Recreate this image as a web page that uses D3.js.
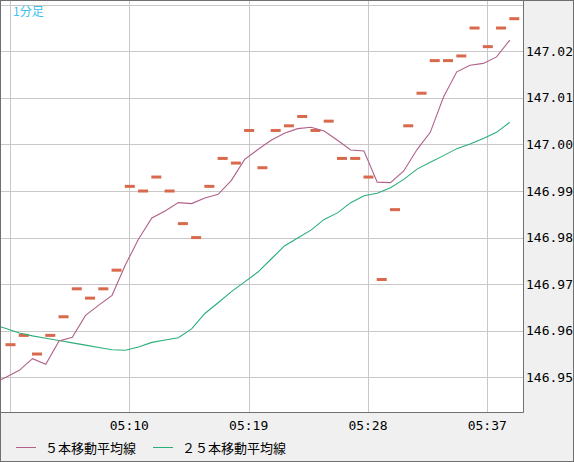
<!DOCTYPE html>
<html>
<head>
<meta charset="utf-8">
<script src="https://cdn.jsdelivr.net/npm/d3@7/dist/d3.min.js"></script>
<style>
html,body{margin:0;padding:0;background:#f0f0f0;}
svg{display:block;}
</style>
</head>
<body>
<svg id="chart" width="574" height="462"></svg>
<script>
// minutes past 05:00
const barMinutes = d3.range(1, 40);
const closes = [
  146.957, 146.959, 146.955, 146.959, 146.963, 146.969, 146.967, 146.969, 146.973, 146.991,
  146.990, 146.993, 146.990, 146.983, 146.980, 146.991, 146.997, 146.996, 147.003, 146.995,
  147.003, 147.004, 147.006, 147.003, 147.005, 146.997, 146.997, 146.993, 146.971, 146.986,
  147.004, 147.011, 147.018, 147.018, 147.019, 147.025, 147.021, 147.025, 147.027
];
const lineMinutes = d3.range(0, 40);
const ma5 = [
  146.9487, 146.9500, 146.9515, 146.9540, 146.9528, 146.9578, 146.9586, 146.9633, 146.9655, 146.9676,
  146.9741, 146.9797, 146.9842, 146.9857, 146.9875, 146.9873, 146.9885, 146.9893, 146.9923, 146.9968,
  146.9989, 147.0009, 147.0024, 147.0034, 147.0037, 147.0029, 147.0009, 146.9988, 146.9986, 146.9919,
  146.9918, 146.9943, 146.9989, 147.0026, 147.0102, 147.0156, 147.0170, 147.0174, 147.0188, 147.0224
];
const ma25 = [
  146.9613, 146.9605, 146.9595, 146.9589, 146.9584, 146.9579, 146.9574, 146.9569, 146.9564, 146.9559,
  146.9558, 146.9565, 146.9575, 146.9580, 146.9585, 146.9604, 146.9637, 146.9660, 146.9684, 146.9705,
  146.9726, 146.9754, 146.9782, 146.9799, 146.9816, 146.9839, 146.9853, 146.9875, 146.9890, 146.9895,
  146.9907, 146.9925, 146.9947, 146.9962, 146.9976, 146.9991, 147.0001, 147.0013, 147.0026, 147.0048
];
const xTickMinutes = [1, 10, 19, 28, 37];
const xTickLabels = ["", "05:10", "05:19", "05:28", "05:37"];
const yTicks = [146.95, 146.96, 146.97, 146.98, 146.99, 147.00, 147.01, 147.02, 147.03];
const yTickLabels = ["146.95", "146.96", "146.97", "146.98", "146.99", "147.00", "147.01", "147.02", ""];
const legendNames = ["５本移動平均線", "２５本移動平均線"];
const title = "1分足";

const W = 574, H = 462;
const plot = {left: 1, top: 1, right: 523.5, bottom: 412.5};
const colors = {ma5: "#b0608a", ma25: "#2aae78", bar: "#d8694c", grid: "#c8c8c8", frame: "#707070", title: "#40c0ee"};

const svg = d3.select("#chart");
const x = d3.scaleLinear().domain([1, 37]).range([10, 487.3]);
const y = d3.scaleLinear().domain([146.95, 147.02]).range([377.3, 51.3]);

// background
svg.append("rect").attr("x", 0).attr("y", 0).attr("width", W).attr("height", H).attr("fill", "#f0f0f0");
svg.append("rect").attr("x", plot.left).attr("y", plot.top)
  .attr("width", plot.right - plot.left).attr("height", plot.bottom - plot.top).attr("fill", "#fff");

svg.append("clipPath").attr("id", "clip").append("rect")
  .attr("x", plot.left).attr("y", plot.top)
  .attr("width", plot.right - plot.left - 0.5).attr("height", plot.bottom - plot.top - 0.5);

const g = svg.append("g").attr("clip-path", "url(#clip)");

// grid
g.selectAll(".hg").data(yTicks).enter().append("line")
  .attr("x1", plot.left).attr("x2", plot.right)
  .attr("y1", d => Math.round(y(d)) + 0.5).attr("y2", d => Math.round(y(d)) + 0.5)
  .attr("stroke", colors.grid).attr("stroke-width", 1);
g.selectAll(".vg").data(xTickMinutes).enter().append("line")
  .attr("y1", plot.top).attr("y2", plot.bottom)
  .attr("x1", d => Math.round(x(d)) + 0.5).attr("x2", d => Math.round(x(d)) + 0.5)
  .attr("stroke", colors.grid).attr("stroke-width", 1);

// markers
g.selectAll(".bar").data(barMinutes).enter().append("rect")
  .attr("x", (d) => x(d) + 0.5 - 5)
  .attr("y", (d, i) => y(closes[i]) - 1.5)
  .attr("width", 10).attr("height", 3)
  .attr("fill", colors.bar);

// lines
const lineGen = arr => d3.line()
  .x((d) => x(d) - 4)
  .y((d, i) => y(arr[i]));
g.append("path").datum(lineMinutes).attr("d", lineGen(ma25))
  .attr("fill", "none").attr("stroke", colors.ma25).attr("stroke-width", 1.1);
g.append("path").datum(lineMinutes).attr("d", lineGen(ma5))
  .attr("fill", "none").attr("stroke", colors.ma5).attr("stroke-width", 1.1);

// frame
svg.append("line").attr("x1", plot.right).attr("x2", plot.right).attr("y1", 0).attr("y2", plot.bottom)
  .attr("stroke", colors.frame);
svg.append("line").attr("x1", 0).attr("x2", plot.right).attr("y1", plot.bottom).attr("y2", plot.bottom)
  .attr("stroke", colors.frame);
svg.append("rect").attr("x", 0.5).attr("y", 0.5).attr("width", W - 1).attr("height", H - 1)
  .attr("fill", "none").attr("stroke", colors.frame);

// y labels
svg.selectAll(".yl").data(yTicks).enter().append("text")
  .attr("x", 526).attr("y", d => y(d) + 4.5)
  .attr("font-family", "DejaVu Sans Mono, monospace").attr("font-size", 13)
  .attr("fill", "#000")
  .text((d, i) => yTickLabels[i]);

// x labels
svg.selectAll(".xl").data(xTickMinutes).enter().append("text")
  .attr("x", d => x(d)).attr("y", 430)
  .attr("text-anchor", "middle")
  .attr("font-family", "DejaVu Sans Mono, monospace").attr("font-size", 13)
  .attr("fill", "#000")
  .text((d, i) => xTickLabels[i]);

// title
svg.append("text").attr("x", 13).attr("y", 15.5)
  .attr("font-family", "Noto Sans CJK JP, sans-serif").attr("font-size", 12)
  .attr("fill", colors.title).text(title);

// legend
const legendX = [16, 153];
const legendColors = [colors.ma5, colors.ma25];
legendNames.forEach((name, i) => {
  svg.append("line").attr("x1", legendX[i]).attr("x2", legendX[i] + 20)
    .attr("y1", 447.5).attr("y2", 447.5).attr("stroke", legendColors[i]).attr("stroke-width", 1);
  svg.append("text").attr("x", legendX[i] + 29).attr("y", 453)
    .attr("font-family", "Noto Sans CJK JP, sans-serif").attr("font-size", 13)
    .attr("fill", "#000").text(name);
});
</script>
</body>
</html>
